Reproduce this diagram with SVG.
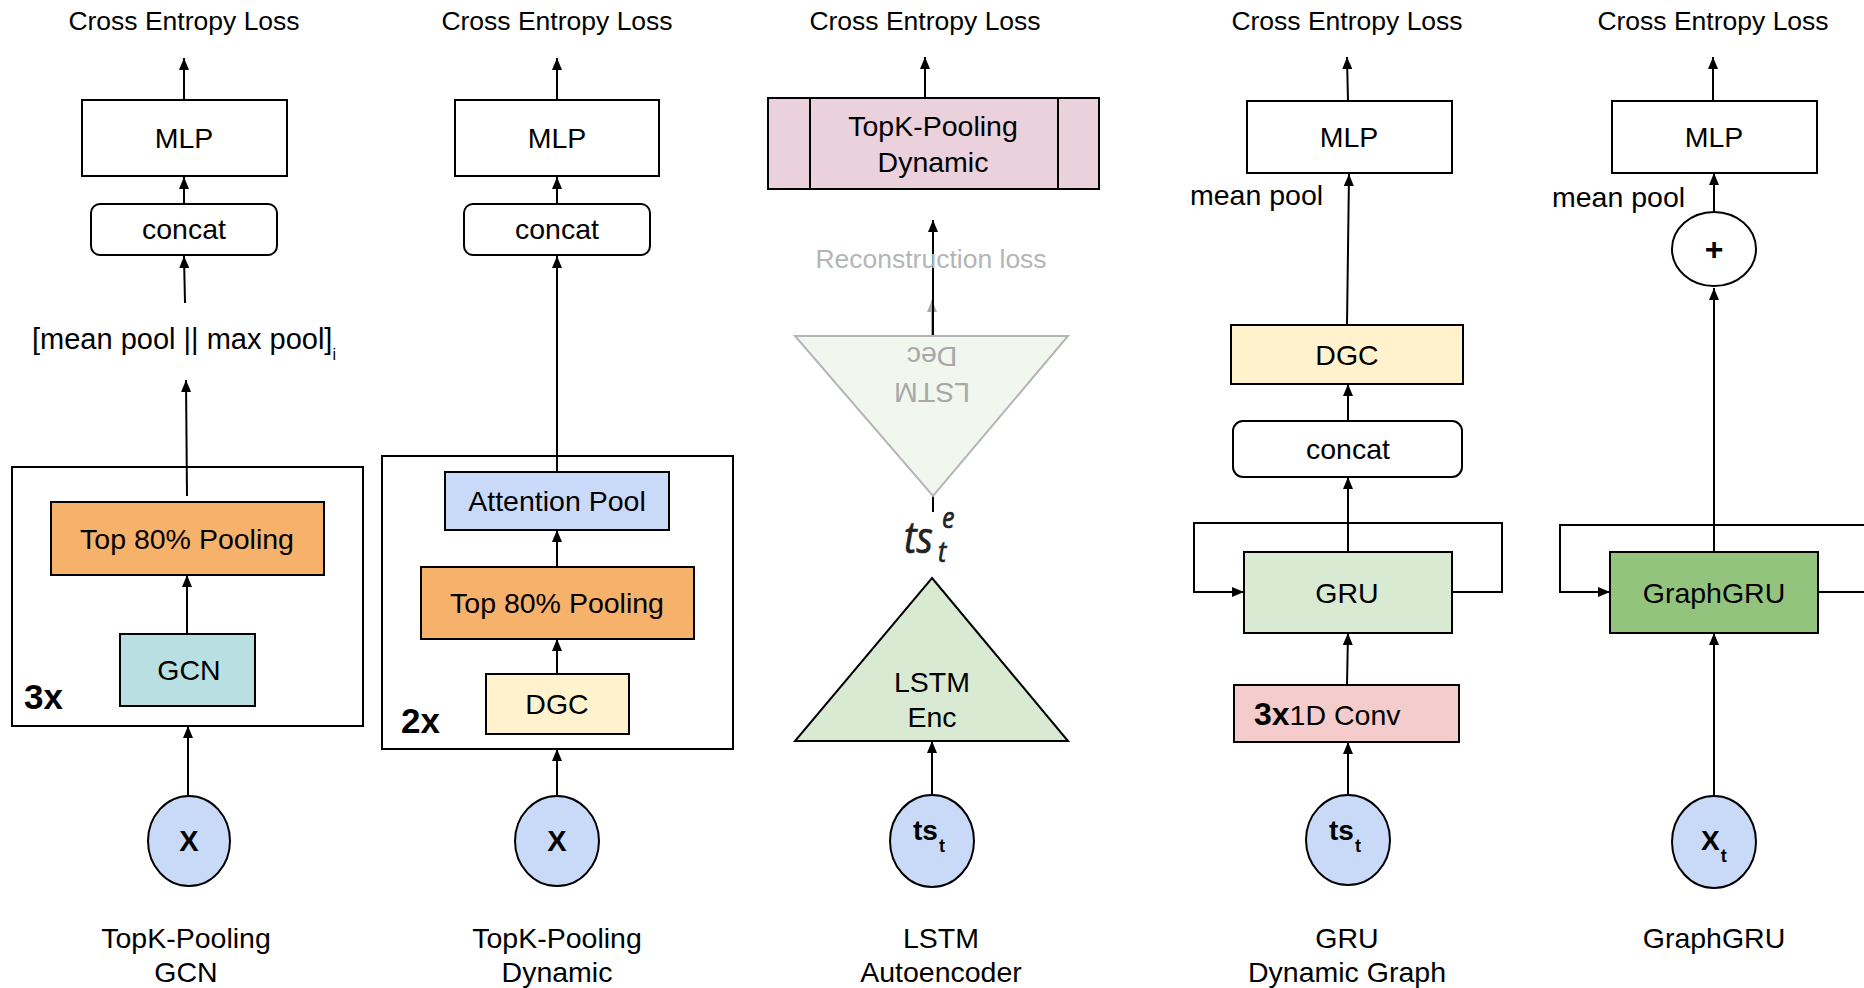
<svg xmlns="http://www.w3.org/2000/svg" width="1864" height="988" viewBox="0 0 1864 988">
<defs>
<marker id="ah" markerUnits="userSpaceOnUse" markerWidth="12" markerHeight="10" refX="12" refY="5" orient="auto">
<path d="M0,0 L12,5 L0,10 z" fill="#000"/>
</marker>
<marker id="ahg" markerUnits="userSpaceOnUse" markerWidth="12" markerHeight="10" refX="12" refY="5" orient="auto">
<path d="M0,0 L12,5 L0,10 z" fill="#aaa"/>
</marker>
<style>
text{font-family:"Liberation Sans",Arial,sans-serif;fill:#000}
.t{font-size:28.5px;text-anchor:middle}
.ce{font-size:26.5px;text-anchor:middle}
.b{stroke:#000;stroke-width:2}
.w{fill:#fff}
.bold{font-weight:bold}
.c{stroke:#000;stroke-width:2;fill:none;marker-end:url(#ah)}
.cg{stroke:#aaa;stroke-width:2;fill:none;marker-end:url(#ahg)}
.gray{fill:#a8a8a8}
.math{font-family:"Open Sans",sans-serif;font-style:italic;fill:#222;stroke:#222;stroke-width:0.6}
</style>
</defs>
<rect width="1864" height="988" fill="#fff"/>

<g id="connectors">
<line class="c" x1="184" y1="100" x2="184" y2="58"/>
<line class="c" x1="184" y1="204" x2="184" y2="177"/>
<line class="c" x1="185" y1="303" x2="184" y2="256"/>
<line class="c" x1="187" y1="496" x2="186" y2="380"/>
<line class="c" x1="187" y1="634" x2="187" y2="575"/>
<line class="c" x1="188" y1="796" x2="188" y2="726"/>

<line class="c" x1="557" y1="100" x2="557" y2="58"/>
<line class="c" x1="557" y1="210" x2="557" y2="177"/>
<line class="c" x1="557" y1="472" x2="557" y2="256"/>
<line class="c" x1="557" y1="567" x2="557" y2="530"/>
<line class="c" x1="557" y1="674" x2="557" y2="639"/>
<line class="c" x1="557" y1="796" x2="557" y2="749"/>

<line class="c" x1="925" y1="98" x2="925" y2="57"/>
<line class="cg" x1="932" y1="336" x2="932" y2="300"/>
<line class="c" x1="933" y1="512" x2="933" y2="220"/>
<line class="c" x1="932" y1="795" x2="932" y2="741"/>

<line class="c" x1="1348" y1="101" x2="1347" y2="57"/>
<line class="c" x1="1347" y1="325" x2="1349" y2="174"/>
<line class="c" x1="1348" y1="421" x2="1348" y2="384"/>
<line class="c" x1="1348" y1="552" x2="1348" y2="477"/>
<path class="c" d="M1452,592 H1502 V523 H1194 V592 H1244"/>
<line class="c" x1="1347" y1="685" x2="1348" y2="633"/>
<line class="c" x1="1348" y1="795" x2="1348" y2="742"/>

<line class="c" x1="1713" y1="101" x2="1713" y2="57"/>
<line class="c" x1="1714" y1="212" x2="1714" y2="173"/>
<line class="c" x1="1714" y1="552" x2="1714" y2="288"/>
<path class="c" d="M1880,525 H1560 V592 H1610"/>
<path d="M1818,592 H1880" stroke="#000" stroke-width="2" fill="none"/>
<line class="c" x1="1714" y1="796" x2="1714" y2="633"/>
</g>

<g id="col1">
<g id="c1-loss"><text class="ce" x="184" y="30">Cross Entropy Loss</text></g>
<g id="c1-mlp"><rect class="b w" x="82" y="100" width="205" height="76"/><text class="t" x="184" y="148">MLP</text></g>
<g id="c1-concat"><rect class="b w" x="91" y="204" width="186" height="51" rx="9"/><text class="t" x="184" y="239">concat</text></g>
<g id="c1-pool"><text x="32" y="349" style="font-size:29px">[mean pool || max pool]<tspan style="font-size:16px" dy="11">i</tspan></text></g>
<g id="c1-block"><rect class="b" fill="none" x="12" y="467" width="351" height="259"/><text class="bold" x="24" y="709" style="font-size:35px">3x</text></g>
<g id="c1-top80"><rect class="b" fill="#f6b26b" x="51" y="502" width="273" height="73"/><text class="t" x="187" y="549">Top 80% Pooling</text></g>
<g id="c1-gcn"><rect class="b" fill="#b8e0e3" x="120" y="634" width="135" height="72"/><text class="t" x="189" y="680">GCN</text></g>
<g id="c1-x"><ellipse class="b" fill="#c9daf8" cx="189" cy="841" rx="41" ry="45"/><text class="bold" x="189" y="851" text-anchor="middle" style="font-size:29px">X</text></g>
<g id="c1-caption"><text class="t" x="186" y="948">TopK-Pooling</text><text class="t" x="186" y="982">GCN</text></g>
</g>

<g id="col2">
<g id="c2-loss"><text class="ce" x="557" y="30">Cross Entropy Loss</text></g>
<g id="c2-mlp"><rect class="b w" x="455" y="100" width="204" height="76"/><text class="t" x="557" y="148">MLP</text></g>
<g id="c2-concat"><rect class="b w" x="464" y="204" width="186" height="51" rx="9"/><text class="t" x="557" y="239">concat</text></g>
<g id="c2-block"><rect class="b" fill="none" x="382" y="456" width="351" height="293"/><text class="bold" x="401" y="733" style="font-size:35px">2x</text></g>
<g id="c2-att"><rect class="b" fill="#c9daf8" x="445" y="472" width="224" height="58"/><text class="t" x="557" y="511">Attention Pool</text></g>
<g id="c2-top80"><rect class="b" fill="#f6b26b" x="421" y="567" width="273" height="72"/><text class="t" x="557" y="613">Top 80% Pooling</text></g>
<g id="c2-dgc"><rect class="b" fill="#fff2cc" x="486" y="674" width="143" height="60"/><text class="t" x="557" y="714">DGC</text></g>
<g id="c2-x"><ellipse class="b" fill="#c9daf8" cx="557" cy="841" rx="42" ry="45"/><text class="bold" x="557" y="851" text-anchor="middle" style="font-size:29px">X</text></g>
<g id="c2-caption"><text class="t" x="557" y="948">TopK-Pooling</text><text class="t" x="557" y="982">Dynamic</text></g>
</g>

<g id="col3">
<g id="c3-loss"><text class="ce" x="925" y="30">Cross Entropy Loss</text></g>
<g id="c3-topk"><rect class="b" fill="#ead1dc" x="768" y="98" width="331" height="91"/><line class="b" x1="810" y1="98" x2="810" y2="189"/><line class="b" x1="1058" y1="98" x2="1058" y2="189"/><text class="t" x="933" y="136">TopK-Pooling</text><text class="t" x="933" y="172">Dynamic</text></g>
<g id="c3-recloss"><text class="ce gray" x="931" y="268" style="fill:#b5b5b5">Reconstruction loss</text></g>
<g id="c3-dec"><polygon points="795,336 1068,336 933,496" fill="#f1f6ef" stroke="#b5b5b5" stroke-width="2"/><g transform="rotate(180 932 375)"><text class="t gray" x="932" y="367">LSTM</text><text class="t gray" x="932" y="403">Dec</text></g></g>
<g id="c3-ts-e"><text class="math" x="904" y="553" transform="translate(904 553) scale(1 1.15) translate(-904 -553)" style="font-size:38px">ts</text><text class="math" x="942" y="528" transform="translate(942 528) scale(1 1.15) translate(-942 -528)" style="font-size:25px">e</text><text class="math" x="938" y="562" transform="translate(938 562) scale(1 1.15) translate(-938 -562)" style="font-size:25px">t</text></g>
<g id="c3-enc"><polygon points="932,578 1068,741 795,741" fill="#d9ead3" stroke="#000" stroke-width="2"/><text class="t" x="932" y="692">LSTM</text><text class="t" x="932" y="727">Enc</text></g>
<g id="c3-ts"><ellipse class="b" fill="#c9daf8" cx="932" cy="841" rx="42" ry="46"/><text class="bold" x="913" y="840" style="font-size:28px">ts<tspan style="font-size:18px" dx="1" dy="12">t</tspan></text></g>
<g id="c3-caption"><text class="t" x="941" y="948">LSTM</text><text class="t" x="941" y="982">Autoencoder</text></g>
</g>

<g id="col4">
<g id="c4-loss"><text class="ce" x="1347" y="30">Cross Entropy Loss</text></g>
<g id="c4-mlp"><rect class="b w" x="1247" y="101" width="205" height="72"/><text class="t" x="1349" y="147">MLP</text></g>
<g id="c4-meanpool"><text x="1190" y="205" style="font-size:28.5px">mean pool</text></g>
<g id="c4-dgc"><rect class="b" fill="#fff2cc" x="1231" y="325" width="232" height="59"/><text class="t" x="1347" y="365">DGC</text></g>
<g id="c4-concat"><rect class="b w" x="1233" y="421" width="229" height="56" rx="10"/><text class="t" x="1348" y="459">concat</text></g>
<g id="c4-gru"><rect class="b" fill="#d9ead3" x="1244" y="552" width="208" height="81"/><text class="t" x="1347" y="603">GRU</text></g>
<g id="c4-conv"><rect class="b" fill="#f4cccc" x="1234" y="685" width="225" height="57"/><text x="1254" y="725" style="font-size:28.5px"><tspan class="bold" style="font-size:32px">3x</tspan>1D Conv</text></g>
<g id="c4-ts"><ellipse class="b" fill="#c9daf8" cx="1348" cy="840" rx="42" ry="45"/><text class="bold" x="1329" y="840" style="font-size:28px">ts<tspan style="font-size:18px" dx="1" dy="12">t</tspan></text></g>
<g id="c4-caption"><text class="t" x="1347" y="948">GRU</text><text class="t" x="1347" y="982">Dynamic Graph</text></g>
</g>

<g id="col5">
<g id="c5-loss"><text class="ce" x="1713" y="30">Cross Entropy Loss</text></g>
<g id="c5-mlp"><rect class="b w" x="1612" y="101" width="205" height="72"/><text class="t" x="1714" y="147">MLP</text></g>
<g id="c5-meanpool"><text x="1552" y="207" style="font-size:28.5px">mean pool</text></g>
<g id="c5-plus"><ellipse class="b w" cx="1714" cy="249" rx="42" ry="37"/><text class="bold" x="1714" y="260" text-anchor="middle" style="font-size:32px">+</text></g>
<g id="c5-graphgru"><rect class="b" fill="#93c47d" x="1610" y="552" width="208" height="81"/><text class="t" x="1714" y="603">GraphGRU</text></g>
<g id="c5-x"><ellipse class="b" fill="#c9daf8" cx="1714" cy="842" rx="42" ry="46"/><text class="bold" x="1701" y="850" style="font-size:28px">X<tspan style="font-size:18px" dx="1" dy="12">t</tspan></text></g>
<g id="c5-caption"><text class="t" x="1714" y="948">GraphGRU</text></g>
</g>
</svg>
